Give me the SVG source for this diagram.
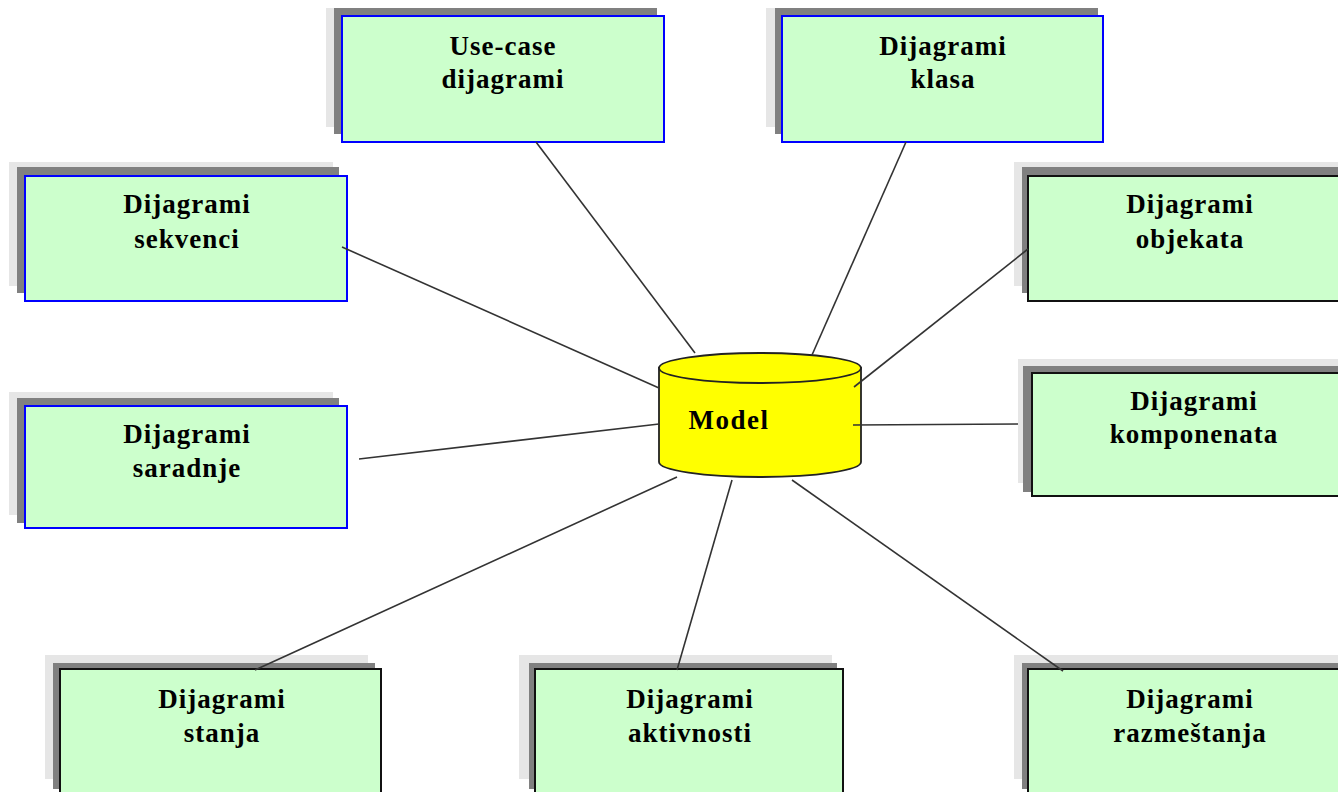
<svg xmlns="http://www.w3.org/2000/svg" width="1338" height="792" viewBox="0 0 1338 792">
  <style>
    .sh1 { fill: #e6e6e6; }
    .sh2 { fill: #808080; }
    .box { fill: #ccffcc; stroke-width: 2; }
    .blue { stroke: #0000ff; }
    .black { stroke: #111111; }
    .lbl { font-family: "Liberation Serif", "Times New Roman", serif; font-weight: bold; font-size: 27px; letter-spacing: 1px; fill: #000; text-anchor: middle; }
    .conn line { stroke: #333333; stroke-width: 1.6; }
    .cyl { fill: #ffff00; stroke: #222222; stroke-width: 1.8; }
  </style>
  <rect width="1338" height="792" fill="#ffffff"/>

  <!-- Use-case diagrami -->
  <g id="use-case">
    <rect class="sh1" x="326" y="8" width="322" height="119"/>
    <rect class="sh2" x="334" y="8" width="323" height="126"/>
    <rect class="box blue" x="342" y="16" width="322" height="126"/>
    <text class="lbl" x="503" y="55">Use-case</text>
    <text class="lbl" x="503" y="88">dijagrami</text>
  </g>

  <!-- Dijagrami klasa -->
  <g id="klasa">
    <rect class="sh1" x="766" y="8" width="322" height="119"/>
    <rect class="sh2" x="775" y="8" width="323" height="126"/>
    <rect class="box blue" x="782" y="16" width="321" height="126"/>
    <text class="lbl" x="943" y="55">Dijagrami</text>
    <text class="lbl" x="943" y="88">klasa</text>
  </g>

  <!-- Dijagrami sekvenci -->
  <g id="sekvenci">
    <rect class="sh1" x="9" y="162" width="324" height="124"/>
    <rect class="sh2" x="17" y="167" width="322" height="126"/>
    <rect class="box blue" x="25" y="176" width="322" height="125"/>
    <text class="lbl" x="187" y="213">Dijagrami</text>
    <text class="lbl" x="187" y="248">sekvenci</text>
  </g>

  <!-- Dijagrami saradnje -->
  <g id="saradnje">
    <rect class="sh1" x="9" y="392" width="324" height="123"/>
    <rect class="sh2" x="17" y="398" width="322" height="125"/>
    <rect class="box blue" x="25" y="406" width="322" height="122"/>
    <text class="lbl" x="187" y="443">Dijagrami</text>
    <text class="lbl" x="187" y="477">saradnje</text>
  </g>

  <!-- Dijagrami objekata -->
  <g id="objekata">
    <rect class="sh1" x="1014" y="162" width="324" height="124"/>
    <rect class="sh2" x="1022" y="167" width="322" height="126"/>
    <rect class="box black" x="1028" y="176" width="322" height="125"/>
    <text class="lbl" x="1190" y="213">Dijagrami</text>
    <text class="lbl" x="1190" y="248">objekata</text>
  </g>

  <!-- Dijagrami komponenata -->
  <g id="komponenata">
    <rect class="sh1" x="1018" y="359" width="324" height="124"/>
    <rect class="sh2" x="1023" y="366" width="322" height="126"/>
    <rect class="box black" x="1032" y="373" width="322" height="123"/>
    <text class="lbl" x="1194" y="410">Dijagrami</text>
    <text class="lbl" x="1194" y="443">komponenata</text>
  </g>

  <!-- Dijagrami stanja -->
  <g id="stanja">
    <rect class="sh1" x="45" y="655" width="323" height="124"/>
    <rect class="sh2" x="53" y="663" width="322" height="126"/>
    <rect class="box black" x="60" y="669" width="321" height="126"/>
    <text class="lbl" x="222" y="708">Dijagrami</text>
    <text class="lbl" x="222" y="742">stanja</text>
  </g>

  <!-- Dijagrami aktivnosti -->
  <g id="aktivnosti">
    <rect class="sh1" x="519" y="655" width="313" height="124"/>
    <rect class="sh2" x="529" y="663" width="308" height="126"/>
    <rect class="box black" x="535" y="669" width="308" height="126"/>
    <text class="lbl" x="690" y="708">Dijagrami</text>
    <text class="lbl" x="690" y="742">aktivnosti</text>
  </g>

  <!-- Dijagrami razmeštanja -->
  <g id="razmestanja">
    <rect class="sh1" x="1014" y="655" width="324" height="124"/>
    <rect class="sh2" x="1022" y="663" width="322" height="126"/>
    <rect class="box black" x="1028" y="669" width="322" height="126"/>
    <text class="lbl" x="1190" y="708">Dijagrami</text>
    <text class="lbl" x="1190" y="742">razmeštanja</text>
  </g>

  <!-- Central model store -->
  <g id="model">
    <path class="cyl" d="M659,368 L659,462 A101,15 0 0 0 861,462 L861,368 Z"/>
    <ellipse class="cyl" cx="760" cy="368" rx="101" ry="15"/>
    <text class="lbl" x="729" y="429" style="letter-spacing:1.5px">Model</text>
  </g>

  <!-- Links from the model to each diagram -->
  <g id="connectors" class="conn">
    <line x1="536" y1="142" x2="695" y2="353"/>
    <line x1="906" y1="142" x2="812" y2="355"/>
    <line x1="342" y1="247" x2="659" y2="388"/>
    <line x1="1028" y1="249" x2="854" y2="387"/>
    <line x1="359" y1="459" x2="659" y2="424"/>
    <line x1="1018" y1="424" x2="853" y2="425"/>
    <line x1="255" y1="670" x2="677" y2="477"/>
    <line x1="677" y1="670" x2="732" y2="480"/>
    <line x1="1063" y1="671" x2="792" y2="480"/>
  </g>
</svg>
